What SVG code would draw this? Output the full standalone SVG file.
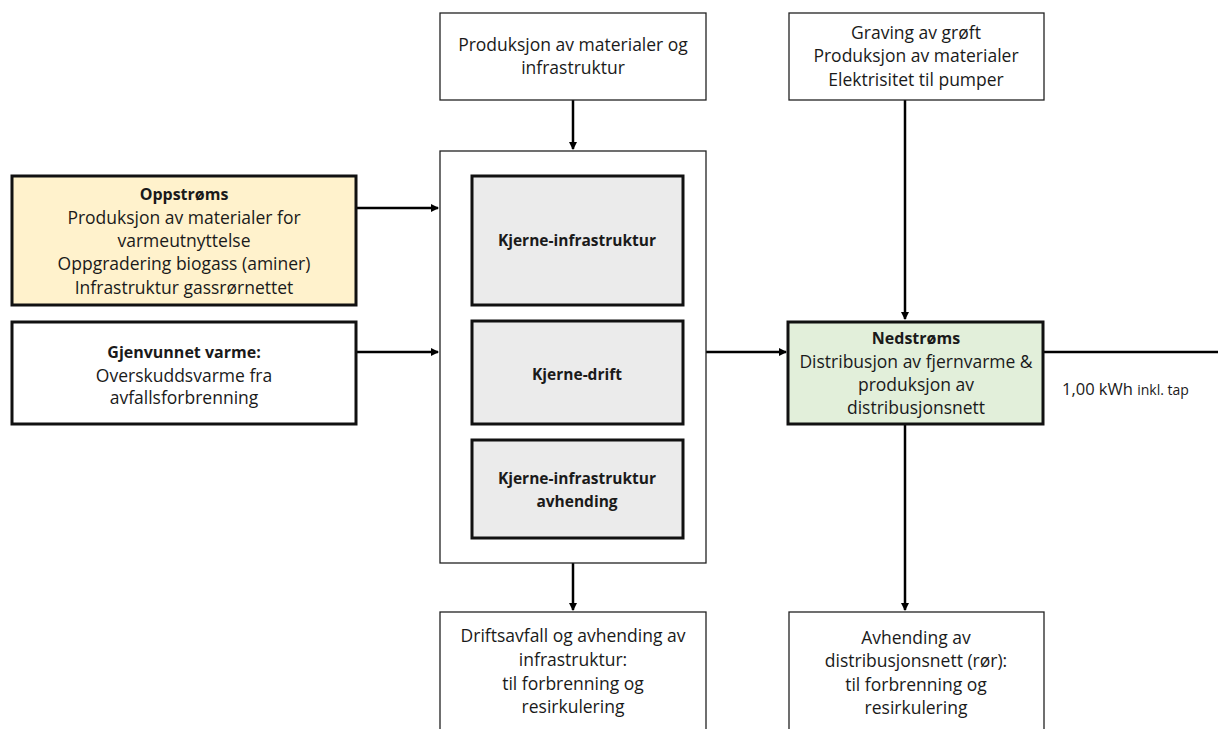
<svg xmlns="http://www.w3.org/2000/svg" width="1218" height="729" viewBox="0 0 1218 729">
<defs>
<style>
.t{font-family:"Open Sans","Liberation Sans",sans-serif;font-size:17.5px;fill:#1a1a1a;text-anchor:middle}
.b{font-weight:bold;font-size:16px}
.k{font-weight:bold;font-size:15.5px}
.thin{fill:#fff;stroke:#222;stroke-width:1.3}
.thick{stroke:#111;stroke-width:3}
.c{stroke:#000;stroke-width:2.5;fill:none}
</style>
<marker id="ah" markerWidth="8" markerHeight="8" refX="7" refY="4" orient="auto" markerUnits="userSpaceOnUse">
<path d="M0,0 L8,4 L0,8 z" fill="#000"/>
</marker>
</defs>
<rect width="1218" height="729" fill="#fff"/>
<g id="connectors">
<line class="c" x1="573" y1="100" x2="573" y2="149" marker-end="url(#ah)"/>
<line class="c" x1="356" y1="208" x2="438" y2="208" marker-end="url(#ah)"/>
<line class="c" x1="356" y1="352" x2="438" y2="352" marker-end="url(#ah)"/>
<line class="c" x1="706" y1="352" x2="786" y2="352" marker-end="url(#ah)"/>
<line class="c" x1="905" y1="100" x2="905" y2="319" marker-end="url(#ah)"/>
<line class="c" x1="905" y1="424" x2="905" y2="610" marker-end="url(#ah)"/>
<line class="c" x1="573" y1="563" x2="573" y2="610" marker-end="url(#ah)"/>
<line class="c" x1="1043" y1="352" x2="1218" y2="352"/>
</g>
<g id="top-materials">
<rect class="thin" x="440" y="13" width="266" height="87"/>
<text class="t" x="573" y="51">Produksjon av materialer og</text>
<text class="t" x="573" y="74">infrastruktur</text>
</g>
<g id="top-trench">
<rect class="thin" x="789" y="13" width="255" height="87"/>
<text class="t" x="916" y="39">Graving av grøft</text>
<text class="t" x="916" y="62">Produksjon av materialer</text>
<text class="t" x="916" y="86">Elektrisitet til pumper</text>
</g>
<g id="core">
<rect class="thin" x="440" y="151" width="266" height="412"/>
</g>
<g id="core-infra">
<rect class="thick" fill="#ebebeb" x="472" y="176" width="211" height="129"/>
<text class="t k" x="577" y="246">Kjerne-infrastruktur</text>
</g>
<g id="core-ops">
<rect class="thick" fill="#ebebeb" x="472" y="321" width="211" height="103"/>
<text class="t k" x="577" y="380">Kjerne-drift</text>
</g>
<g id="core-disposal">
<rect class="thick" fill="#ebebeb" x="472" y="440" width="211" height="98"/>
<text class="t k" x="577" y="484">Kjerne-infrastruktur</text>
<text class="t k" x="577" y="507">avhending</text>
</g>
<g id="upstream">
<rect class="thick" fill="#fff2cc" x="12" y="176" width="344" height="129"/>
<text class="t b" x="184" y="200">Oppstrøms</text>
<text class="t" x="184" y="224">Produksjon av materialer for</text>
<text class="t" x="184" y="247">varmeutnyttelse</text>
<text class="t" x="184" y="270">Oppgradering biogass (aminer)</text>
<text class="t" x="184" y="294">Infrastruktur gassrørnettet</text>
</g>
<g id="recovered-heat">
<rect class="thick" fill="#fff" x="12" y="322" width="344" height="102"/>
<text class="t b" x="184" y="358">Gjenvunnet varme:</text>
<text class="t" x="184" y="382">Overskuddsvarme fra</text>
<text class="t" x="184" y="404">avfallsforbrenning</text>
</g>
<g id="downstream">
<rect class="thick" fill="#e2efda" x="788" y="322" width="255" height="102"/>
<text class="t b" x="916" y="344">Nedstrøms</text>
<text class="t" x="916" y="368">Distribusjon av fjernvarme &amp;</text>
<text class="t" x="916" y="391">produksjon av</text>
<text class="t" x="916" y="414">distribusjonsnett</text>
</g>
<g id="output-label">
<text class="t" x="1062" y="395" style="text-anchor:start;font-size:16.5px">1,00 kWh <tspan style="font-size:14px">inkl. tap</tspan></text>
</g>
<g id="bottom-core-waste">
<rect class="thin" x="440" y="612" width="266" height="130"/>
<text class="t" x="573" y="642">Driftsavfall og avhending av</text>
<text class="t" x="573" y="666">infrastruktur:</text>
<text class="t" x="573" y="690">til forbrenning og</text>
<text class="t" x="573" y="713">resirkulering</text>
</g>
<g id="bottom-network-disposal">
<rect class="thin" x="789" y="612" width="255" height="130"/>
<text class="t" x="916" y="644">Avhending av</text>
<text class="t" x="916" y="667">distribusjonsnett (rør):</text>
<text class="t" x="916" y="691">til forbrenning og</text>
<text class="t" x="916" y="714">resirkulering</text>
</g>
</svg>
